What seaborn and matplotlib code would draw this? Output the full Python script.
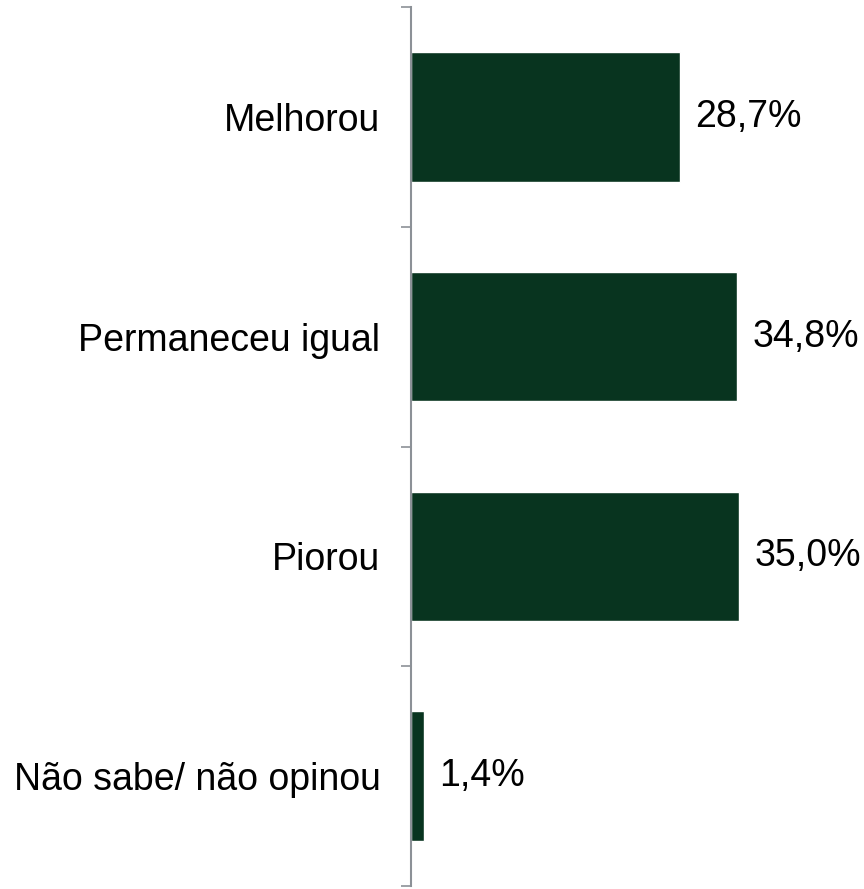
import pandas as pd
import matplotlib.pyplot as plt
import seaborn as sns
from matplotlib.ticker import FixedLocator

sns.set_style("white")
plt.rcParams["font.family"] = ["Liberation Sans", "DejaVu Sans"]

categories = ["Melhorou", "Permaneceu igual", "Piorou", "Não sabe/ não opinou"]
values = [28.7, 34.8, 35.0, 1.4]
labels = ["28,7%", "34,8%", "35,0%", "1,4%"]

df = pd.DataFrame({"categoria": categories, "pct": values})

fig = plt.figure(figsize=(8.64, 8.89), dpi=100)
ax = fig.add_axes([0.4757, 0.0034, 0.5243, 0.9887])

sns.barplot(data=df, x="pct", y="categoria", orient="h",
            color="#08341f", width=0.59, saturation=1, ax=ax)

ax.set_xlim(0, 48.3)
ax.set_ylim(3.5, -0.5)

# labels at bar centres, tick marks at category boundaries
ax.yaxis.set_major_locator(FixedLocator([-0.5, 0.5, 1.5, 2.5, 3.5]))
ax.yaxis.set_minor_locator(FixedLocator([0, 1, 2, 3]))
ax.set_yticklabels([], minor=False)
ax.set_yticklabels(categories, minor=True, fontsize=27, color="black")
ax.tick_params(axis="y", which="major", left=True, length=7, width=1.2,
               color="#8c9197")
ax.tick_params(axis="y", which="minor", left=True, length=0, pad=22)
ax.set_xticks([])
ax.set_xlabel("")
ax.set_ylabel("")

for side in ["top", "right", "bottom"]:
    ax.spines[side].set_visible(False)
ax.spines["left"].set_color("#8c9197")
ax.spines["left"].set_linewidth(1.5)

for i, (v, lab) in enumerate(zip(values, labels)):
    ax.annotate(lab, xy=(v, i), xytext=(11, 0), textcoords="offset points",
                va="center", ha="left", fontsize=27, color="black")

fig.savefig("out.png", dpi=100)
